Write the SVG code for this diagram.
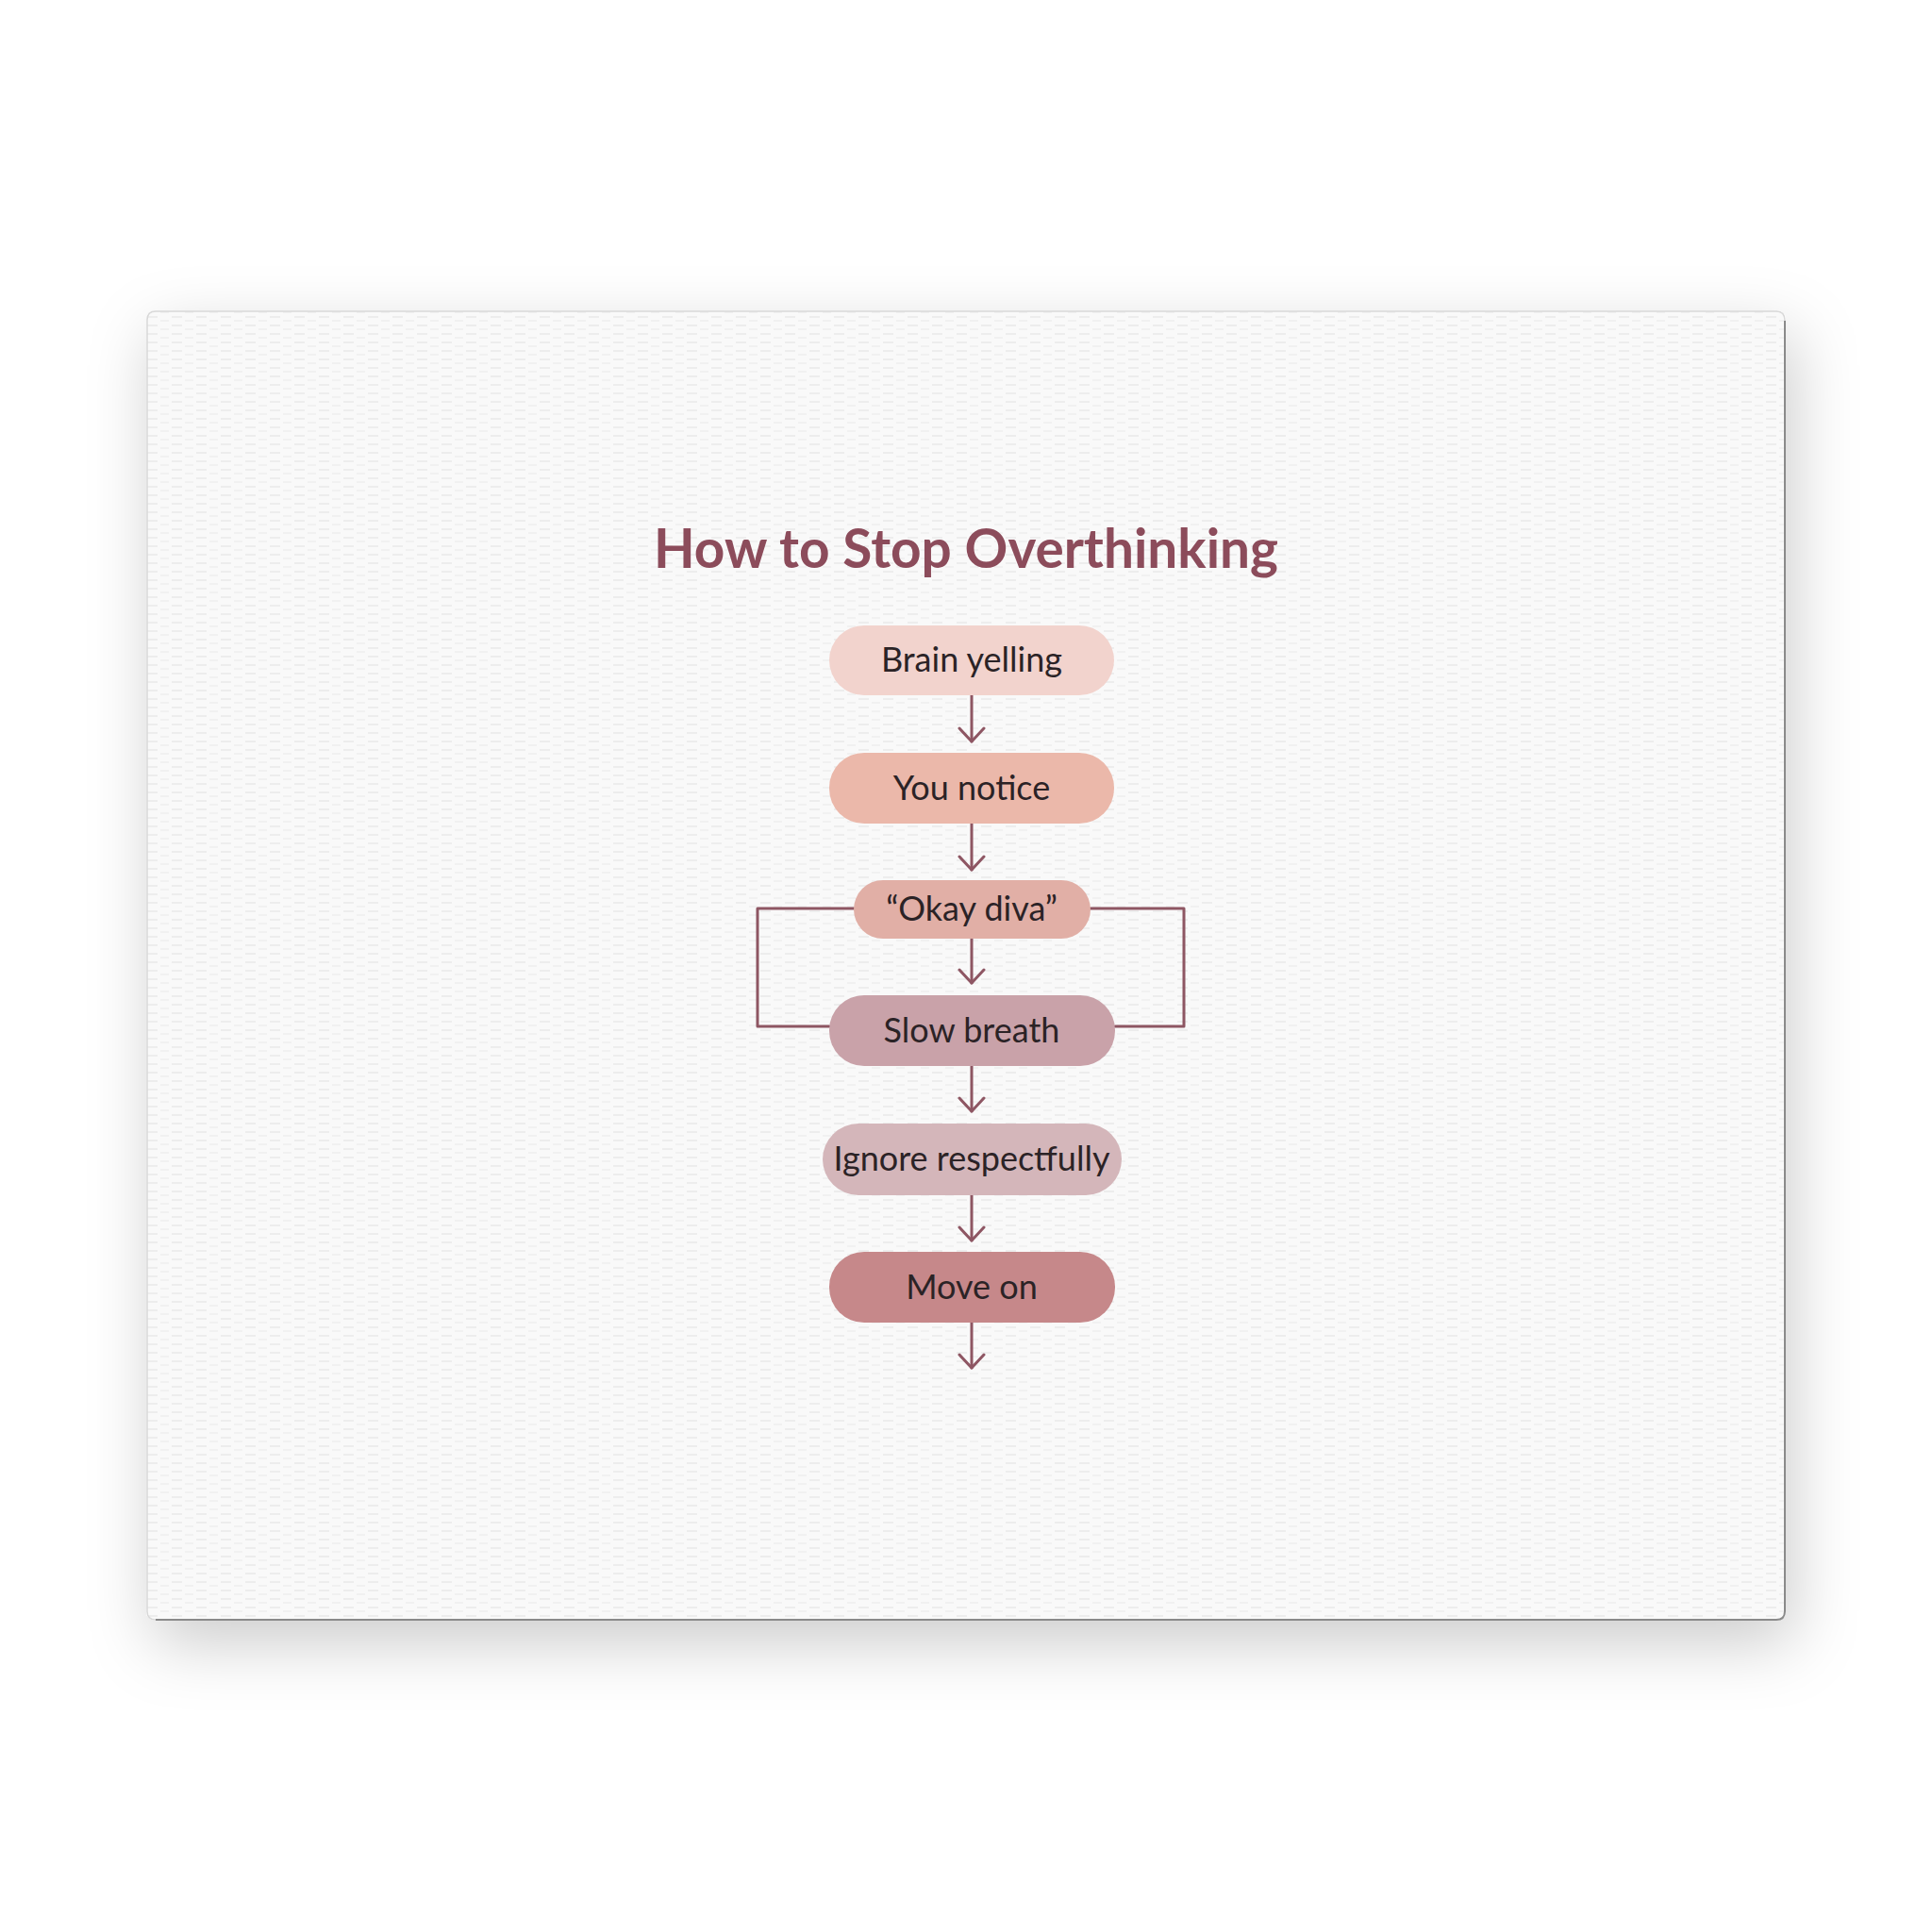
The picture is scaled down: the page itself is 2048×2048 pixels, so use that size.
<svg xmlns="http://www.w3.org/2000/svg" width="2048" height="2048" viewBox="0 0 2048 2048">
<defs>
<filter id="shadow" x="-10%" y="-10%" width="125%" height="135%">
<feDropShadow dx="8" dy="24" stdDeviation="34" flood-color="#000" flood-opacity="0.2"/>
</filter>
<pattern id="weave" width="26" height="9" patternUnits="userSpaceOnUse">
<rect x="0" y="2" width="11" height="2" fill="#e4e4e4" opacity="0.55"/>
<rect x="14" y="6" width="9" height="2" fill="#e6e6e6" opacity="0.45"/>
</pattern>
<style>
.node rect{stroke:none}
.node text{font-family:Lato,"Open Sans","Liberation Sans",sans-serif;font-size:36px;fill:#2b2326;text-anchor:middle}
.conn path,.conn line{fill:none;stroke:#8e5663;stroke-width:3;stroke-linecap:round;stroke-linejoin:round}
.title{font-family:Lato,"Open Sans","Liberation Sans",sans-serif;font-weight:bold;font-size:57px;fill:#8c4c5b;text-anchor:middle}
</style>
</defs>
<rect width="2048" height="2048" fill="#ffffff"/>
<g id="canvas">
<rect x="155" y="329" width="1738" height="1389" rx="10" fill="#f9f9f9" filter="url(#shadow)"/>
<rect x="155" y="329" width="1738" height="1389" rx="10" fill="url(#weave)"/>
<path d="M1892 340 V1708 Q1892 1717 1883 1717 H165" fill="none" stroke="#8a8a8a" stroke-width="2"/>
<path d="M165 1717 Q156 1717 156 1708 V339 Q156 330 165 330 H1883 Q1892 330 1892 340" fill="none" stroke="#d8d8d8" stroke-width="1.5"/>
</g>
<text id="title" class="title" x="1024" y="602" textLength="662" lengthAdjust="spacingAndGlyphs">How to Stop Overthinking</text>
<g id="connectors" class="conn">
<line x1="1030" y1="737" x2="1030" y2="786"/><path d="M1017 772 L1030 786 L1043 772"/>
<line x1="1030" y1="873" x2="1030" y2="922"/><path d="M1017 908 L1030 922 L1043 908"/>
<line x1="1030" y1="995" x2="1030" y2="1042"/><path d="M1017 1028 L1030 1042 L1043 1028"/>
<line x1="1030" y1="1130" x2="1030" y2="1178"/><path d="M1017 1164 L1030 1178 L1043 1164"/>
<line x1="1030" y1="1267" x2="1030" y2="1315"/><path d="M1017 1301 L1030 1315 L1043 1301"/>
<line x1="1030" y1="1402" x2="1030" y2="1450"/><path d="M1017 1436 L1030 1450 L1043 1436"/>
<path d="M905 963 H803 V1088 H879"/>
<path d="M1156 963 H1255 V1088 H1182"/>
</g>
<g id="n1" class="node"><rect x="879" y="663" width="302" height="74" rx="37" fill="#f2d3cd"/><text x="1030" y="712">Brain yelling</text></g>
<g id="n2" class="node"><rect x="879" y="798" width="302" height="75" rx="37" fill="#ebb8aa"/><text x="1030" y="848">You notice</text></g>
<g id="n3" class="node"><rect x="905" y="933" width="251" height="62" rx="31" fill="#e1afa6"/><text x="1030" y="976">“Okay diva”</text></g>
<g id="n4" class="node"><rect x="879" y="1055" width="303" height="75" rx="37" fill="#c9a2a9"/><text x="1030" y="1105">Slow breath</text></g>
<g id="n5" class="node"><rect x="872" y="1191" width="317" height="76" rx="38" fill="#d4b6ba"/><text x="1030" y="1241">Ignore respectfully</text></g>
<g id="n6" class="node"><rect x="879" y="1327" width="303" height="75" rx="37" fill="#c6888a"/><text x="1030" y="1377">Move on</text></g>
</svg>
